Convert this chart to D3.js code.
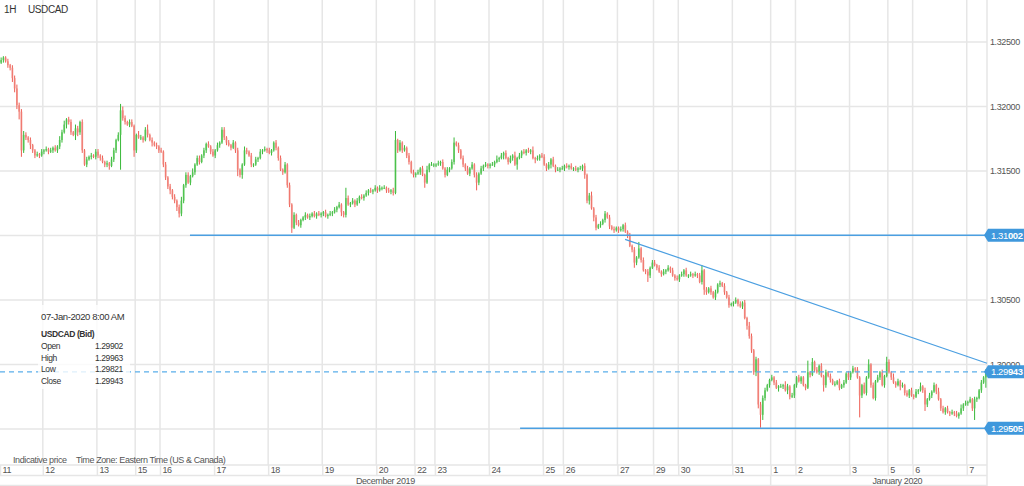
<!DOCTYPE html>
<html>
<head>
<meta charset="utf-8">
<script src="https://d3js.org/d3.v7.min.js"></script>
<style>
  body { margin: 0; background: #fff; }
  svg { font-family: "Liberation Sans", Arial, sans-serif; display: block; }
  svg text { letter-spacing: -0.4px; }
  .grid line { stroke: #e6e6e6; stroke-width: 1.5; }
</style>
</head>
<body>
<script>
// day labels along the bottom (one group of hourly bars per day)
var dayLabels = ["11","12","13","15","16","17","18","19","20","22","23","24",
                 "25","26","27","29","30","31","1","2","3","5","6","7"];
var monthLabels = ["December 2019", "January 2020"];
var monthStartDay = [0, 18];

// hourly closes, one array per day (USDCAD, bid)
var firstOpen = 1.3234;
var closes = [
  [1.3236,1.3238,1.3235,1.3232,1.3230,1.3222,1.3214,1.3201,1.3196,1.3166,1.3178,1.3176,1.3174,1.3170,1.3166,1.3162,1.3163,1.3162,1.3165],
  [1.3166,1.3167,1.3165,1.3166,1.3168,1.3166,1.3169,1.3174,1.3180,1.3186,1.3190,1.3188,1.3180,1.3178,1.3183,1.3180,1.3188,1.3166,1.3155,1.3159,1.3161,1.3162,1.3161,1.3165],
  [1.3162,1.3160,1.3157,1.3155,1.3156,1.3154,1.3159,1.3166,1.3174,1.3178,1.3197,1.3191,1.3188,1.3186,1.3188,1.3185,1.3166],
  [1.3178,1.3176,1.3176,1.3174,1.3182,1.3178,1.3174,1.3172,1.3170,1.3169,1.3166],
  [1.3165,1.3155,1.3145,1.3138,1.3135,1.3130,1.3127,1.3122,1.3117,1.3127,1.3139,1.3147,1.3141,1.3146,1.3149,1.3155,1.3160,1.3157,1.3162,1.3166,1.3171,1.3169,1.3165,1.3162],
  [1.3166,1.3170,1.3172,1.3182,1.3176,1.3172,1.3170,1.3168,1.3172,1.3166,1.3151,1.3147,1.3155,1.3166,1.3165,1.3162,1.3155,1.3155,1.3159,1.3160,1.3165,1.3166,1.3167,1.3166],
  [1.3164,1.3166,1.3172,1.3168,1.3160,1.3151,1.3149,1.3155,1.3139,1.3124,1.3106,1.3116,1.3110,1.3108,1.3112,1.3114,1.3116,1.3114,1.3115,1.3117,1.3115,1.3117,1.3116,1.3117],
  [1.3118,1.3115,1.3116,1.3117,1.3118,1.3120,1.3122,1.3124,1.3118,1.3116,1.3129,1.3124,1.3125,1.3127,1.3124,1.3127,1.3130,1.3129,1.3131,1.3133,1.3135,1.3134,1.3135,1.3137],
  [1.3135,1.3137,1.3137,1.3137,1.3135,1.3134,1.3135,1.3133,1.3174,1.3166,1.3172,1.3166,1.3168,1.3162,1.3157,1.3149,1.3147],
  [1.3148,1.3149,1.3152,1.3147,1.3141,1.3151,1.3155,1.3155,1.3155],
  [1.3155,1.3156,1.3157,1.3152,1.3147,1.3151,1.3152,1.3157,1.3172,1.3170,1.3166,1.3160,1.3155,1.3152,1.3148,1.3152,1.3155,1.3147,1.3141,1.3148,1.3152,1.3154,1.3155,1.3154],
  [1.3155,1.3155,1.3157,1.3159,1.3160,1.3162,1.3164,1.3160,1.3157,1.3160,1.3162,1.3155,1.3160,1.3162,1.3165,1.3164,1.3166,1.3165,1.3166,1.3160,1.3159,1.3160,1.3162,1.3161],
  [1.3155,1.3152,1.3155,1.3159,1.3154,1.3151,1.3151,1.3152,1.3152],
  [1.3154,1.3153,1.3154,1.3152,1.3152,1.3151,1.3152,1.3152,1.3154,1.3147,1.3127,1.3131,1.3121,1.3114,1.3106,1.3108,1.3109,1.3112,1.3117,1.3114,1.3107,1.3105,1.3104,1.3106],
  [1.3104,1.3105,1.3108,1.3103,1.3100,1.3092,1.3089,1.3079,1.3083,1.3090,1.3081,1.3073,1.3072,1.3069,1.3075,1.3079],
  [1.3077,1.3075,1.3072,1.3070,1.3072,1.3073,1.3075,1.3073,1.3069,1.3067,1.3066],
  [1.3069,1.3070,1.3073,1.3069,1.3069,1.3070,1.3069,1.3070,1.3069,1.3064,1.3073,1.3058,1.3056,1.3059,1.3056,1.3052,1.3056,1.3062,1.3063,1.3061,1.3056,1.3052,1.3046,1.3047],
  [1.3048,1.3050,1.3047,1.3045,1.3048,1.3036,1.3030,1.3022,1.3011,1.2994,1.3004,1.2969,1.2961,1.2974,1.2980,1.2984,1.2988],
  [1.2990,1.2986,1.2982,1.2983,1.2983,1.2984,1.2980,1.2983,1.2975,1.2976,1.2984],
  [1.2990,1.2987,1.2990,1.2984,1.2982,1.2994,1.2992,1.3002,1.2996,1.2994,1.2999,1.2991,1.2984,1.2994,1.2991,1.2988,1.2985,1.2985,1.2987,1.2982,1.2984,1.2986,1.2993,1.2990],
  [1.2994,1.2997,1.2996,1.2990,1.2976,1.2984,1.2978,1.2990,1.3000,1.2984,1.2974,1.2987,1.2990,1.2994,1.2984,1.2991,1.3002],
  [1.2994,1.2990,1.2986,1.2984,1.2987,1.2983,1.2984,1.2978,1.2976,1.2980,1.2976],
  [1.2975,1.2979,1.2980,1.2983,1.2980,1.2969,1.2973,1.2976,1.2979,1.2984,1.2979,1.2973,1.2966,1.2963,1.2966,1.2963,1.2962,1.2963,1.2962,1.2960,1.2962,1.2966,1.2969,1.2970],
  [1.2971,1.2973,1.2966,1.2973,1.2974,1.2980,1.2986,1.2990,1.29943]
];

// wick lengths in pips above / below the body (base-36 digit per bar, one group per day)
var wickUp = "2112122322321211212 121212132312213212121212 21212122125321221 13212412121 " +
  "212121212312213122121212 121221212121132121212121 211212121212121121212121 " +
  "121212121182121212121212 12121212712121212 121213121 121212124121212121212121 " +
  "121312121213121212131212 212121212 121212121212312121212121 1212121215121212 " +
  "21212121212 121212121241212121212121 12121213212122211 21212132121 " +
  "121119131212121212121212 12121121412121214 21312121212 121312121213121212121312 121211212";
var wickDown = "1212233365222322121 212121222132214322121212 2212231221r221215 21221213122 " +
  "122232233222121212122121 212122121252312122121212 121221212241212121211212 " +
  "212121213221212121212121 21212122121212212 212141212 212121212121221212621212 " +
  "212121312121412121213121 121312121 212121212323132121212121 2121212421212521 " +
  "12121212121 212121212124212121212121 212121322233a4212 12131213212 " +
  "212121212121521212121212 2121h212121212121 12121312121 212125212121212121212121 212921218";

var priceTicks = [1.295, 1.300, 1.305, 1.310, 1.315, 1.320, 1.325];
var levels = [ { price: 1.31002, fromBar: 84.3 }, { price: 1.29505, fromBar: 230.8 } ];
var lastPrice = 1.29943;
var trendLine = [ { bar: 277.4, price: 1.3097 }, { bar: 438, price: 1.3001 } ];
var lastBar = { date: "07-Jan-2020 8:00 AM", name: "USDCAD (Bid)",
  rows: [["Open", "1.29902"], ["High", "1.29963"], ["Low", "1.29821"], ["Close", "1.29943"]] };

// ---- build bars ----
var upGroups = wickUp.split(" "), dnGroups = wickDown.split(" ");
var candles = [], dayStarts = [];
var prev = firstOpen, idx = 0;
closes.forEach(function (day, d) {
  dayStarts.push(idx);
  day.forEach(function (c, k) {
    var u = parseInt(upGroups[d][k] || "1", 36) / 10000;
    var w = parseInt(dnGroups[d][k] || "1", 36) / 10000;
    candles.push({ i: idx, o: prev, c: c, h: Math.max(prev, c) + u, l: Math.min(prev, c) - w });
    prev = c;
    idx++;
  });
});
var nBars = idx;

var W = 1024, H = 486, plotRight = 987, plotBottom = 465;

var x = d3.scaleLinear().domain([0, nBars]).range([0, plotRight]);
var y = d3.scaleLinear().domain([1.295, 1.325]).range([429, 42]);

var svg = d3.select("body").append("svg").attr("width", W).attr("height", H);

// grid
var grid = svg.append("g").attr("class", "grid");
grid.selectAll(".h").data(priceTicks).enter().append("line")
  .attr("x1", 0).attr("x2", plotRight)
  .attr("y1", function (d) { return y(d); }).attr("y2", function (d) { return y(d); });
grid.selectAll(".v").data(dayStarts.slice(1)).enter().append("line")
  .attr("x1", function (d) { return x(d); }).attr("x2", function (d) { return x(d); })
  .attr("y1", 0).attr("y2", plotBottom);
grid.append("line").attr("x1", plotRight).attr("x2", plotRight).attr("y1", 0).attr("y2", H);
[plotBottom, 475.5, 485.5].forEach(function (yy) {
  grid.append("line").attr("x1", 0).attr("x2", plotRight).attr("y1", yy).attr("y2", yy);
});
grid.append("line").attr("x1", x(dayStarts[monthStartDay[1]])).attr("x2", x(dayStarts[monthStartDay[1]]))
  .attr("y1", 475.5).attr("y2", H);

// price tags sit on top of the axis labels they cover
var tags = [levels[0].price, lastPrice, levels[1].price];
var labelTicks = priceTicks.filter(function (t) {
  return !tags.some(function (p) { return Math.abs(y(t) - y(p)) < 6; });
});

// right price axis
var yAxis = d3.axisRight(y).tickValues(labelTicks).tickFormat(d3.format(".5f")).tickSize(0).tickPadding(3);
svg.append("g").attr("transform", "translate(" + plotRight + ",0)")
  .call(yAxis)
  .call(function (g) { g.select(".domain").remove(); })
  .selectAll("text").attr("font-size", 9).attr("fill", "#555");

// bottom day axis
var xAxis = d3.axisBottom(x).tickValues(dayStarts)
  .tickFormat(function (d, i) { return dayLabels[i]; }).tickSize(10);
var xg = svg.append("g").attr("transform", "translate(0," + plotBottom + ")").call(xAxis);
xg.select(".domain").remove();
xg.selectAll(".tick line").attr("stroke", "#e6e6e6").attr("stroke-width", 1.5);
xg.selectAll(".tick text").attr("text-anchor", "start").attr("x", 2).attr("y", 1.5)
  .attr("font-size", 9).attr("fill", "#555");

// month labels
var monthEdges = [x(dayStarts[monthStartDay[0]]), x(dayStarts[monthStartDay[1]]), W];
svg.append("g").selectAll("text").data(monthLabels).enter().append("text")
  .attr("x", function (d, i) { return (monthEdges[i] + monthEdges[i + 1]) / 2; })
  .attr("y", 484).attr("text-anchor", "middle").attr("font-size", 9).attr("fill", "#555")
  .text(function (d) { return d; });

// candles
var bw = 1.8;
var cg = svg.append("g");
cg.selectAll("line").data(candles).enter().append("line")
  .attr("x1", function (d) { return x(d.i + 0.5); }).attr("x2", function (d) { return x(d.i + 0.5); })
  .attr("y1", function (d) { return y(d.h); }).attr("y2", function (d) { return y(d.l); })
  .attr("stroke", function (d) { return d.c >= d.o ? "#39b839" : "#ee5f55"; })
  .attr("stroke-width", 1);
cg.selectAll("rect").data(candles).enter().append("rect")
  .attr("x", function (d) { return x(d.i + 0.5) - bw / 2; })
  .attr("width", bw)
  .attr("y", function (d) { return y(Math.max(d.o, d.c)); })
  .attr("height", function (d) { return Math.max(1, Math.abs(y(d.o) - y(d.c))); })
  .attr("fill", function (d) { return d.c >= d.o ? "#4fc44f" : "#f07f76"; })
  .attr("fill-opacity", 0.75);

// drawn lines
var blue = "#4b9fe1";
svg.selectAll(".lvl").data(levels).enter().append("line")
  .attr("x1", function (d) { return x(d.fromBar); }).attr("x2", plotRight)
  .attr("y1", function (d) { return y(d.price); }).attr("y2", function (d) { return y(d.price); })
  .attr("stroke", blue).attr("stroke-width", 1.5);
svg.append("line").attr("x1", 0).attr("x2", plotRight)
  .attr("y1", y(lastPrice)).attr("y2", y(lastPrice))
  .attr("stroke", "#5aaeea").attr("stroke-width", 1.2).attr("stroke-dasharray", "5,4");
svg.append("path")
  .attr("d", d3.line().x(function (d) { return x(d.bar); }).y(function (d) { return y(d.price); })(trendLine))
  .attr("stroke", blue).attr("stroke-width", 1.2).attr("fill", "none");

// price tags on the right
var tg = svg.append("g").selectAll("g").data(tags).enter().append("g")
  .attr("transform", function (d) { return "translate(" + plotRight + "," + y(d) + ")"; });
tg.append("path").attr("d", "M-3,0 L1,-6.5 L40,-6.5 L40,6.5 L1,6.5 Z").attr("fill", "#3f98dc");
var tt = tg.append("text").attr("x", 4).attr("y", 3.4).attr("font-size", 9.5).attr("fill", "#fff");
tt.append("tspan").text(function (d) { return d3.format(".5f")(d).slice(0, 4); });
tt.append("tspan").attr("font-weight", "bold").text(function (d) { return d3.format(".5f")(d).slice(4); });

// title
svg.append("text").attr("x", 4).attr("y", 13).attr("font-size", 10).attr("fill", "#333").text("1H");
svg.append("text").attr("x", 28).attr("y", 13).attr("font-size", 10).attr("fill", "#333").text("USDCAD");

// info box for the last bar
var ib = svg.append("g");
ib.append("rect").attr("x", 38).attr("y", 305).attr("width", 92).attr("height", 84)
  .attr("fill", "#fff").attr("fill-opacity", 0.8);
ib.append("text").attr("x", 41).attr("y", 320).attr("font-size", 9.5).attr("fill", "#333").text(lastBar.date);
ib.append("text").attr("x", 41).attr("y", 336.5).attr("font-size", 8.5).attr("font-weight", "bold")
  .attr("fill", "#333").text(lastBar.name);
var rows = ib.selectAll(".row").data(lastBar.rows).enter().append("g")
  .attr("transform", function (d, i) { return "translate(0," + (349 + i * 11.5) + ")"; });
rows.append("text").attr("x", 41).attr("font-size", 8.5).attr("fill", "#333").text(function (d) { return d[0]; });
rows.append("text").attr("x", 95).attr("font-size", 8.5).attr("fill", "#333").text(function (d) { return d[1]; });

// footer
svg.append("text").attr("x", 13).attr("y", 463).attr("font-size", 9).attr("fill", "#555").text("Indicative price");
svg.append("text").attr("x", 76).attr("y", 463).attr("font-size", 9).attr("fill", "#555")
  .text("Time Zone: Eastern Time (US & Canada)");
</script>
</body>
</html>
